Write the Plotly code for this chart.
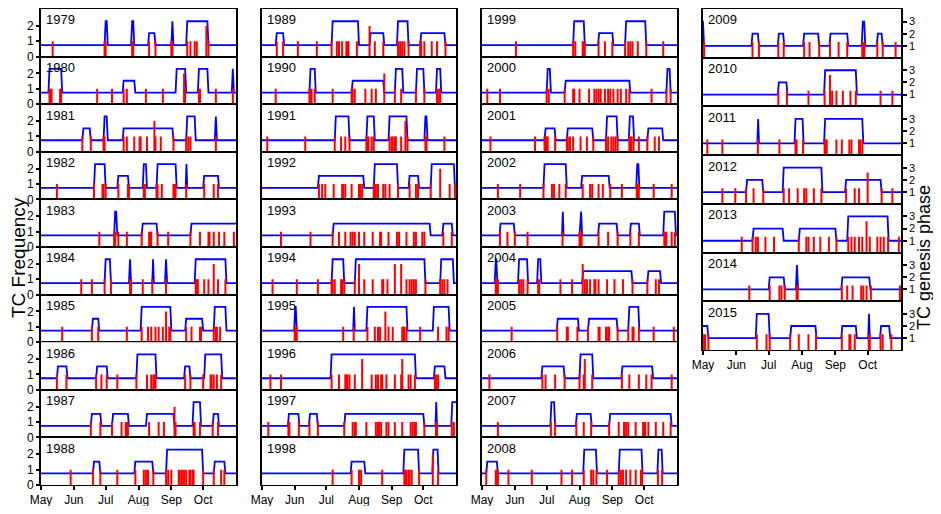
from collections import Counter
import plotly.graph_objects as go

# day of season, 0 = 1 May ; a day listed twice = 2 TCs that day
# phase segments: (start day, end day, genesis phase)
tc_1979 = [11, 60, 61, 86, 87, 102, 108, 123, 124, 138, 141, 145, 147, 156, 156, 158]
ph_1979 = [(60, 63, 3), (85, 88, 3), (101, 108, 2), (123, 125, 3), (137, 158, 3)]
tc_1980 = [8, 9, 10, 18, 19, 53, 67, 78, 81, 99, 115, 135, 135, 136, 149, 150, 165, 181]
ph_1980 = [(7, 20, 3), (77, 89, 2), (127, 137, 3), (148, 158, 3), (180, 182, 3)]
tc_1981 = [39, 47, 59, 60, 78, 81, 88, 93, 94, 100, 107, 107, 108, 113, 125, 137, 139, 141, 165]
ph_1981 = [(39, 47, 2), (59, 63, 3), (77, 125, 2), (137, 146, 3), (164, 166, 3)]
tc_1982 = [15, 50, 58, 59, 61, 73, 82, 83, 97, 98, 109, 110, 114, 125, 126, 127, 137, 154, 163, 167]
ph_1982 = [(50, 61, 3), (72, 83, 2), (96, 100, 3), (109, 128, 3), (136.5, 138, 3), (153, 168, 2)]
tc_1983 = [55, 69, 70, 73, 81, 95, 102, 103, 104, 110, 120, 141, 150, 158, 159, 163, 168, 173, 182]
ph_1983 = [(69, 72, 3), (95, 110, 2), (141, 190, 2)]
tc_1984 = [38, 48, 60, 66, 84, 85, 96, 105, 118, 146, 147, 148, 154, 158, 163, 163, 167, 174]
ph_1984 = [(60, 66, 3), (83, 85, 3), (105, 106.5, 3), (117, 119, 3), (145, 175, 3)]
tc_1985 = [20, 48, 54, 81, 95, 101, 104, 108, 111, 115, 118, 118, 121, 122, 137, 142, 150, 151,
           163, 165, 166, 169]
ph_1985 = [(48, 55, 2), (94, 123, 3), (136, 153, 2), (163, 175, 3)]
tc_1986 = [15, 24, 52, 57, 62, 72, 90, 100, 104, 106, 107, 108, 136, 141, 153, 160, 161, 163, 166, 170]
ph_1986 = [(15, 25, 2), (52, 63, 2), (90, 109, 3), (135, 141, 2), (154, 171, 3)]
tc_1987 = [47, 56, 67, 76, 80, 81, 82, 102, 111, 116, 126, 126, 127, 144, 145, 150, 162, 167]
ph_1987 = [(47, 57, 2), (67, 83, 2), (99, 126, 2), (143, 151, 3), (162, 168, 2)]
tc_1988 = [28, 49, 56, 72, 89, 97, 99, 101, 106, 118, 120, 123, 130, 131, 133, 135, 137, 140, 141,
           143, 144, 153, 163, 170, 173]
ph_1988 = [(49, 56, 2), (88, 106, 2), (118, 153, 3), (163, 174, 2)]

tc_1989 = [14, 20, 34, 52, 66, 71, 73, 76, 80, 81, 82, 90, 102, 102, 107, 115, 129, 131, 133, 135,
           139, 150, 151, 154, 161, 166, 174]
ph_1989 = [(13, 21, 2), (66, 92, 3), (102, 116, 2), (128, 139, 3), (150, 174, 2)]
tc_1990 = [13, 45, 46, 47, 50, 67, 85, 86, 88, 98, 104, 108, 116, 116, 126, 132, 146, 154, 166, 168, 169]
ph_1990 = [(45, 51, 3), (85, 116, 2), (126, 134, 3), (146, 154, 3), (165, 170, 3)]
tc_1991 = [5, 41, 69, 75, 79, 83, 99, 100, 101, 104, 106, 121, 123, 124, 126, 127, 132, 136, 136,
           138, 155, 156, 173]
ph_1991 = [(69, 83, 3), (99, 107, 3), (120, 138, 3), (154, 157, 3)]
tc_1992 = [54, 57, 60, 68, 76, 77, 79, 85, 92, 93, 95, 106, 107, 108, 110, 115, 117, 121, 129, 140,
           146, 148, 160, 169, 169, 178, 183]
ph_1992 = [(53, 97, 2), (106, 129, 3), (139, 149, 2), (160, 183, 3)]
tc_1993 = [18, 46, 67, 73, 79, 84, 86, 88, 92, 97, 105, 112, 113, 120, 128, 130, 137, 144, 146,
           152, 154, 172, 180]
ph_1993 = [(67, 160, 2), (171, 181, 2)]
tc_1994 = [10, 33, 53, 66, 67, 69, 75, 76, 78, 88, 92, 92, 97, 105, 114, 115, 119, 126, 126, 132,
           132, 137, 140, 142, 144, 146, 155, 169, 171, 173, 176]
ph_1994 = [(66, 78, 3), (88, 155, 3), (169, 182, 3)]
tc_1995 = [31, 32, 33, 77, 87, 100, 107, 110, 112, 117, 117, 120, 124, 133, 134, 135, 137, 150,
           167, 175, 177]
ph_1995 = [(30.5, 33, 3), (86.5, 88, 3), (99, 138, 3), (162, 178, 3)]
tc_1996 = [8, 18, 66, 73, 79, 80, 81, 83, 88, 95, 95, 104, 108, 110, 113, 114, 118, 126, 132, 133,
           133, 139, 141, 145, 164, 165, 167]
ph_1996 = [(65, 146, 3), (163, 174, 2)]
tc_1997 = [6, 25, 26, 35, 45, 53, 78, 86, 88, 89, 99, 108, 110, 111, 113, 118, 120, 126, 133, 141,
           143, 145, 146, 154, 165, 166, 180, 182]
ph_1997 = [(24.5, 35.5, 2), (44.5, 53, 2), (78, 154, 2), (164.5, 166, 3), (179.5, 190, 3)]
tc_1998 = [67, 85, 92, 94, 114, 135, 136, 137, 139, 140, 142, 149, 162, 162, 167]
ph_1998 = [(84, 98, 2), (134, 149, 3), (161.5, 167.5, 3)]

tc_1999 = [32, 86, 88, 95, 96, 97, 110, 116, 123, 135, 138, 140, 142, 147, 155, 171]
ph_1999 = [(86, 97, 3), (109.5, 124, 2), (135, 155, 3)]
tc_2000 = [5, 17, 61, 63, 78, 86, 87, 92, 101, 106, 108, 110, 112, 116, 119, 121, 124, 128, 131,
           136, 139, 160, 174, 178]
ph_2000 = [(61, 65, 3), (78, 140, 2), (174, 178, 3)]
tc_2001 = [8, 50, 59, 60, 61, 62, 69, 80, 81, 83, 86, 93, 99, 105, 117, 119, 122, 124, 126, 128,
           139, 140, 141, 143, 148, 156, 163, 167]
ph_2001 = [(59, 69.5, 2), (80, 105, 2), (117, 128, 3), (138.5, 143.5, 3), (156, 171, 2)]
tc_2002 = [15, 36, 58, 66, 68, 73, 79, 95, 102, 104, 110, 114, 121, 132, 146, 147, 148, 162, 179]
ph_2002 = [(58, 80, 3), (93.5, 120.5, 2), (145.5, 148.5, 3)]
tc_2003 = [17, 24, 31, 43, 76, 92, 93, 94, 110, 119, 128, 140, 148, 172, 173, 174, 179, 182]
ph_2003 = [(16.5, 31, 2), (75.5, 77, 3), (92, 94.5, 3), (109.5, 128, 2), (139.5, 149, 2), (171, 183, 3)]
tc_2004 = [13, 14, 15, 35, 37, 39, 43, 53, 54, 74, 85, 95, 95, 97, 99, 102, 106, 107, 110, 118,
           125, 133, 142, 156, 164, 167]
ph_2004 = [(12, 14.5, 3), (34, 43.5, 3), (52, 56, 3), (94.5, 142, 2), (156, 169, 2)]
tc_2005 = [28, 71, 80, 81, 90, 100, 110, 111, 117, 119, 120, 128, 138, 142, 143, 148, 162, 181]
ph_2005 = [(70.5, 91.5, 2), (100, 128, 2), (138, 148.5, 3)]
tc_2006 = [7, 57, 60, 69, 78, 92, 96, 97, 97, 104, 132, 139, 148, 155, 160, 179]
ph_2006 = [(56, 78, 2), (92, 105, 3), (131.5, 161.5, 2)]
tc_2007 = [15, 65, 69, 89, 96, 103, 120, 129, 134, 136, 138, 145, 152, 153, 154, 157, 164, 171, 178]
ph_2007 = [(64.5, 69, 3), (88.5, 103.5, 2), (120, 179, 2)]
tc_2008 = [4, 13, 14, 15, 25, 47, 75, 85, 96, 103, 105, 108, 118, 129, 131, 133, 136, 140, 145,
           150, 151, 166, 170]
ph_2008 = [(4, 15, 2), (95.5, 108.5, 3), (129, 151.5, 3), (165.5, 170.5, 3)]

tc_2009 = [1, 46, 52, 70, 75, 94, 99, 108, 118, 126, 134, 148, 149, 150, 162, 167, 179]
ph_2009 = [(-2, 1, 3), (45, 52, 2), (69.5, 75.5, 2), (93, 108, 2), (117.5, 135, 2),
           (147.5, 150.8, 3), (161.5, 167, 2)]
tc_2010 = [70, 78, 98, 113, 118, 118, 120, 124, 130, 137, 142, 165, 176]
ph_2010 = [(69.5, 78.5, 2), (112.5, 143, 3)]
tc_2011 = [4, 18, 51, 71, 86, 87, 93, 113, 114, 115, 124, 129, 136, 138, 145, 146, 148]
ph_2011 = [(50.5, 52, 3), (85, 93.5, 3), (112.5, 149, 3)]
tc_2012 = [18, 30, 40, 47, 56, 75, 80, 88, 94, 96, 103, 110, 133, 141, 145, 153, 153, 166, 176]
ph_2012 = [(40, 56, 2), (74, 111, 3), (132, 166, 2)]
tc_2013 = [36, 46, 49, 51, 58, 66, 89, 96, 98, 103, 109, 117, 124, 135, 138, 141, 145, 148, 152,
           152, 155, 162, 165, 168, 172, 182]
ph_2013 = [(46, 75, 2), (89, 124, 2), (134, 172.5, 3)]
tc_2014 = [43, 62, 71, 73, 76, 87, 88, 129, 134, 139, 147, 149, 152, 156, 183]
ph_2014 = [(61, 76, 2), (86.3, 88.3, 3), (128.5, 155.5, 2)]
tc_2015 = [1, 2, 5, 50, 59, 62, 81, 89, 98, 105, 129, 136, 137, 141, 154, 155, 165, 167, 175]
ph_2015 = [(-2, 5, 2), (49, 62, 3), (81, 105.5, 2), (128.5, 143, 2), (153.5, 155, 3), (164.5, 174, 2)]

years = list(range(1979, 2016))
tc_days = [tc_1979, tc_1980, tc_1981, tc_1982, tc_1983, tc_1984, tc_1985, tc_1986, tc_1987, tc_1988,
           tc_1989, tc_1990, tc_1991, tc_1992, tc_1993, tc_1994, tc_1995, tc_1996, tc_1997, tc_1998,
           tc_1999, tc_2000, tc_2001, tc_2002, tc_2003, tc_2004, tc_2005, tc_2006, tc_2007, tc_2008,
           tc_2009, tc_2010, tc_2011, tc_2012, tc_2013, tc_2014, tc_2015]
phases = [ph_1979, ph_1980, ph_1981, ph_1982, ph_1983, ph_1984, ph_1985, ph_1986, ph_1987, ph_1988,
          ph_1989, ph_1990, ph_1991, ph_1992, ph_1993, ph_1994, ph_1995, ph_1996, ph_1997, ph_1998,
          ph_1999, ph_2000, ph_2001, ph_2002, ph_2003, ph_2004, ph_2005, ph_2006, ph_2007, ph_2008,
          ph_2009, ph_2010, ph_2011, ph_2012, ph_2013, ph_2014, ph_2015]

month_days = [0, 31, 61, 92, 123, 153]
month_names = ['May', 'Jun', 'Jul', 'Aug', 'Sep', 'Oct']

# page has an 8px body margin, so the figure is shrunk to fit and shifted
OFF = 8
W, H = 941 - 2 * OFF, 514 - 2 * OFF
col_px = [(41, 236), (262, 456), (482, 677), (703, 901)]   # screen px
col_rows = [10, 10, 10, 7]
col_top = 9
col_bottom = [485, 485, 485, 350]
FONT = 'Liberation Sans, Arial, sans-serif'


def fx(px):
    return (px - OFF) / W


def fy(py):
    return min(1.0, max(0.0, 1 - (py - OFF) / H))


def phase_line(segs, ramp=1.0):
    xs, ys = [-5], [1]
    for s, e, p in segs:
        if e - s > 2 * ramp:
            xs += [s, s + ramp, e - ramp, e]
            ys += [1, p, p, 1]
        else:
            xs += [s, (s + e) / 2, e]
            ys += [1, p, 1]
    xs.append(190)
    ys.append(1)
    return xs, ys


def stems(days):
    # one vertical stick per genesis day, height = number of TCs that day
    cnt = Counter(days)
    xs, ys = [], []
    for d in sorted(cnt):
        xs += [d, d, None]
        ys += [0, cnt[d], None]
    return xs, ys


fig = go.Figure()
lay = {}
ann = []

for i, yr in enumerate(years):
    col = min(i // 10, 3)
    row = i - col * 10
    nrow = col_rows[col]
    rh = (col_bottom[col] - col_top) / nrow
    top = col_top + row * rh
    bot = top + rh
    xd = [fx(col_px[col][0]), fx(col_px[col][1])]
    yd = [fy(bot), fy(top)]
    last = row == nrow - 1

    xn = i + 1
    xa = 'x' if xn == 1 else 'x%d' % xn
    yb = 2 * i + 1
    yo = 2 * i + 2
    yba = 'y' if yb == 1 else 'y%d' % yb
    yoa = 'y%d' % yo

    lay['xaxis' if xn == 1 else 'xaxis%d' % xn] = dict(
        domain=xd, anchor=yba, range=[0, 184], showgrid=False, zeroline=False, automargin=False,
        showline=True, mirror=True, linecolor='black', linewidth=1,
        tickvals=month_days, ticktext=month_names,
        ticks='outside' if last else '', ticklen=4, tickwidth=1.5, tickcolor='black',
        showticklabels=last, tickfont=dict(size=12, color='black', family=FONT))
    # phase axis (right)
    lay['yaxis' if yb == 1 else 'yaxis%d' % yb] = dict(
        domain=yd, anchor=xa, side='right', range=[0.03, 4.03], showgrid=False,
        zeroline=False, automargin=False, showline=True, mirror=True, linecolor='black',
        linewidth=1.5, tickvals=[1, 2, 3], ticks='outside' if col == 3 else '', ticklen=4,
        tickwidth=1.5, tickcolor='black', showticklabels=col == 3,
        tickfont=dict(size=11, color='black', family=FONT))
    # frequency axis (left)
    lay['yaxis%d' % yo] = dict(
        overlaying=yba, anchor=xa, side='left', range=[0, 3.1], showgrid=False,
        zeroline=False, automargin=False, showline=False, tickvals=[0, 1, 2],
        ticks='outside' if col == 0 else '', ticklen=4, tickwidth=1.5, tickcolor='black',
        showticklabels=col == 0, tickfont=dict(size=12, color='black', family=FONT))

    px_, py_ = phase_line(phases[i])
    fig.add_trace(go.Scatter(x=px_, y=py_, mode='lines', xaxis=xa, yaxis=yba,
                             line=dict(color='#0000ff', width=1.8), hoverinfo='skip'))
    sx, sy = stems(tc_days[i])
    fig.add_trace(go.Scatter(x=sx, y=sy, mode='lines', xaxis=xa, yaxis=yoa,
                             line=dict(color='#ff0000', width=2), hoverinfo='skip'))

    ann.append(dict(text=str(yr), xref=xa + ' domain', yref=yba + ' domain', x=0.015, y=0.97,
                    xanchor='left', yanchor='top', showarrow=False,
                    font=dict(size=13, color='black', family=FONT)))

ann.append(dict(text='TC Frequency', xref='paper', yref='paper', x=fx(18), y=fy(258),
                textangle=-90, showarrow=False, xanchor='center', yanchor='middle',
                font=dict(size=19, color='black', family=FONT)))
ann.append(dict(text='TC genesis phase', xref='paper', yref='paper', x=fx(924), y=fy(258),
                textangle=-90, showarrow=False, xanchor='center', yanchor='middle',
                font=dict(size=18, color='black', family=FONT)))

fig.update_layout(**lay)
fig.update_layout(width=W, height=H, margin=dict(l=0, r=0, t=0, b=0, autoexpand=False),
                  showlegend=False, plot_bgcolor='white', paper_bgcolor='white', annotations=ann)
fig.write_html('out.html')
